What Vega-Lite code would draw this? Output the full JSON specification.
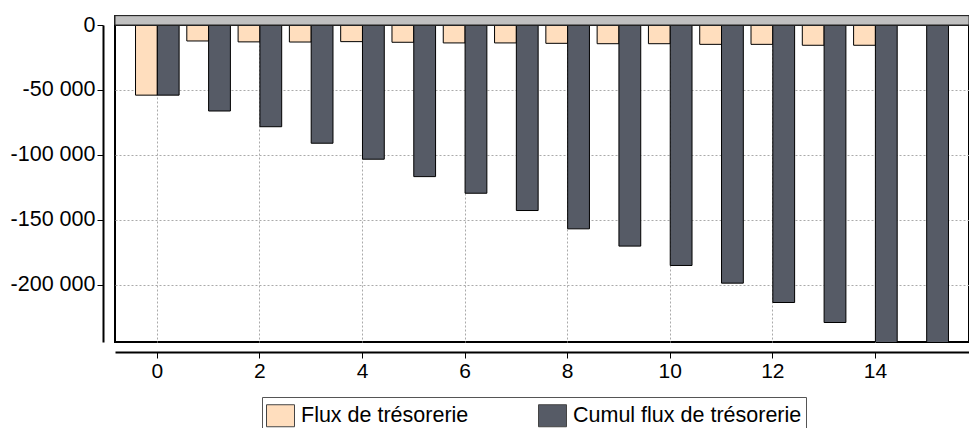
{
  "$schema": "https://vega.github.io/schema/vega-lite/v6.json",
  "width": 854,
  "height": 317,
  "autosize": {"type": "none"},
  "padding": {"left": 115, "top": 25, "right": 0, "bottom": 86},
  "background": "white",
  "config": {
    "view": {"stroke": "black", "strokeWidth": 2},
    "font": "Liberation Sans"
  },
  "data": {
    "values": [
      {"t": 0, "serie": "Flux de trésorerie", "v": -54000},
      {"t": 1, "serie": "Flux de trésorerie", "v": -12300},
      {"t": 2, "serie": "Flux de trésorerie", "v": -13000},
      {"t": 3, "serie": "Flux de trésorerie", "v": -13100},
      {"t": 4, "serie": "Flux de trésorerie", "v": -12800},
      {"t": 5, "serie": "Flux de trésorerie", "v": -13300},
      {"t": 6, "serie": "Flux de trésorerie", "v": -13800},
      {"t": 7, "serie": "Flux de trésorerie", "v": -13800},
      {"t": 8, "serie": "Flux de trésorerie", "v": -14100},
      {"t": 9, "serie": "Flux de trésorerie", "v": -14400},
      {"t": 10, "serie": "Flux de trésorerie", "v": -14400},
      {"t": 11, "serie": "Flux de trésorerie", "v": -14900},
      {"t": 12, "serie": "Flux de trésorerie", "v": -14900},
      {"t": 13, "serie": "Flux de trésorerie", "v": -15600},
      {"t": 14, "serie": "Flux de trésorerie", "v": -15600},
      {"t": 15, "serie": "Flux de trésorerie", "v": 0},
      {"t": 0, "serie": "Cumul flux de trésorerie", "v": -54000},
      {"t": 1, "serie": "Cumul flux de trésorerie", "v": -66200},
      {"t": 2, "serie": "Cumul flux de trésorerie", "v": -78300},
      {"t": 3, "serie": "Cumul flux de trésorerie", "v": -91000},
      {"t": 4, "serie": "Cumul flux de trésorerie", "v": -103300},
      {"t": 5, "serie": "Cumul flux de trésorerie", "v": -116700},
      {"t": 6, "serie": "Cumul flux de trésorerie", "v": -129500},
      {"t": 7, "serie": "Cumul flux de trésorerie", "v": -142800},
      {"t": 8, "serie": "Cumul flux de trésorerie", "v": -156900},
      {"t": 9, "serie": "Cumul flux de trésorerie", "v": -170200},
      {"t": 10, "serie": "Cumul flux de trésorerie", "v": -185100},
      {"t": 11, "serie": "Cumul flux de trésorerie", "v": -198700},
      {"t": 12, "serie": "Cumul flux de trésorerie", "v": -213600},
      {"t": 13, "serie": "Cumul flux de trésorerie", "v": -229000},
      {"t": 14, "serie": "Cumul flux de trésorerie", "v": -245000},
      {"t": 15, "serie": "Cumul flux de trésorerie", "v": -245000}
    ]
  },
  "layer": [
    {
      "mark": {"type": "bar", "stroke": "black", "strokeWidth": 1, "clip": true},
      "encoding": {
        "x": {
          "field": "t",
          "type": "ordinal",
          "scale": {"paddingInner": 0.15, "paddingOuter": 0.4},
          "axis": {
            "values": [0, 2, 4, 6, 8, 10, 12, 14],
            "offset": 10,
            "title": null,
            "labelAngle": 0,
            "domainColor": "black",
            "domainWidth": 2,
            "ticks": true,
            "tickColor": "black",
            "tickSize": 6,
            "tickWidth": 1,
            "labelFontSize": 21,
            "labelFont": "Liberation Sans",
            "labelColor": "black",
            "labelPadding": 2,
            "grid": true,
            "gridDash": [2, 2],
            "gridColor": "#aaaaaa"
          }
        },
        "xOffset": {
          "field": "serie",
          "type": "nominal",
          "sort": ["Flux de trésorerie", "Cumul flux de trésorerie"],
          "scale": {"paddingInner": 0, "paddingOuter": 0}
        },
        "y": {
          "field": "v",
          "type": "quantitative",
          "scale": {"domain": [-244000, 0], "nice": false, "zero": false},
          "axis": {
            "values": [0, -50000, -100000, -150000, -200000],
            "offset": 12,
            "title": null,
            "domainColor": "black",
            "domainWidth": 2,
            "ticks": true,
            "tickColor": "black",
            "tickSize": 6,
            "tickWidth": 1,
            "labelFontSize": 21.5,
            "labelFont": "Liberation Sans",
            "labelColor": "black",
            "labelPadding": 2,
            "labelExpr": "datum.value == 0 ? '0' : '-' + replace(format(-datum.value, ',d'), ',', ' ')",
            "grid": true,
            "gridDash": [2, 2],
            "gridColor": "#aaaaaa"
          }
        },
        "color": {
          "field": "serie",
          "type": "nominal",
          "scale": {
            "domain": ["Flux de trésorerie", "Cumul flux de trésorerie"],
            "range": ["#FFDEBE", "#565B66"]
          },
          "legend": {
            "orient": "none",
            "legendX": 147,
            "legendY": 372,
            "direction": "horizontal",
            "title": null,
            "labelFontSize": 21.5,
            "labelFont": "Liberation Sans",
            "labelColor": "black",
            "labelLimit": 500,
            "symbolType": "M-1,-0.786H1V0.786H-1Z",
            "symbolSize": 784,
            "symbolStrokeColor": "#444444",
            "symbolStrokeWidth": 1,
            "symbolOpacity": 1,
            "labelOffset": 6,
            "columnPadding": 67,
            "padding": 4,
            "strokeColor": "#555555",
            "fillColor": "white"
          }
        }
      }
    },
    {
      "mark": {"type": "rect", "fill": "#C0C0C0", "stroke": "#222222", "strokeWidth": 1},
      "encoding": {
        "y": {"datum": 7200, "type": "quantitative"},
        "y2": {"datum": 0}
      }
    }
  ]
}
